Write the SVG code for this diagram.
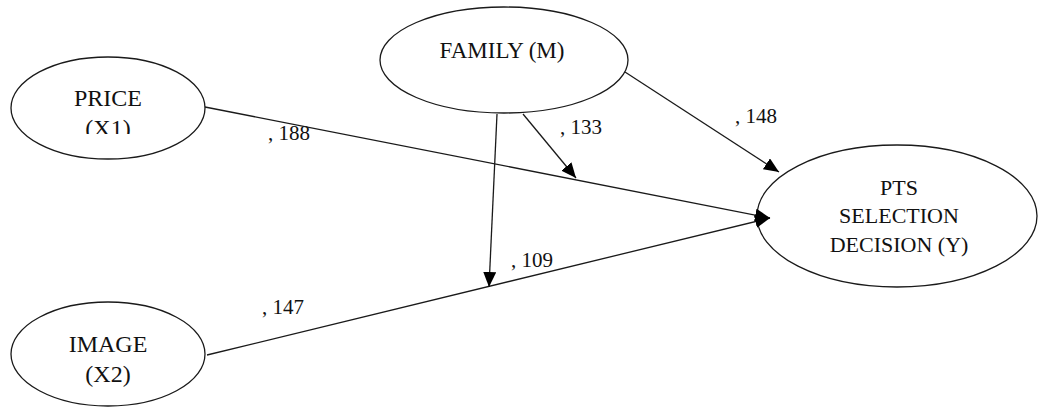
<svg xmlns="http://www.w3.org/2000/svg" width="1038" height="407" viewBox="0 0 1038 407">
  <style>
    .node ellipse { fill: #ffffff; stroke: #1a1a1a; stroke-width: 1.3; }
    .node text { fill: #111111; text-anchor: middle; }
    .edge line { stroke: #1a1a1a; stroke-width: 1.3; marker-end: url(#arrow); }
    .lbl { font-size: 21px; fill: #111111; }
  </style>
  <defs>
    <marker id="arrow" markerUnits="userSpaceOnUse" markerWidth="15" markerHeight="13" refX="15" refY="6.5" orient="auto">
      <path d="M0,0 L15,6.5 L0,13 Z" fill="#000000"/>
    </marker>
    <clipPath id="priceClip">
      <rect x="0" y="0" width="300" height="134"/>
    </clipPath>
  </defs>
  <rect width="1038" height="407" fill="#ffffff"/>

  <g font-family="'Liberation Serif', 'Times New Roman', serif">
    <g id="price" class="node">
      <ellipse cx="108" cy="108" rx="97" ry="51"/>
      <g clip-path="url(#priceClip)">
        <text x="108" y="106" font-size="24">PRICE</text>
        <text x="108" y="136" font-size="24">(X1)</text>
      </g>
    </g>

    <g id="family" class="node">
      <ellipse cx="504" cy="60" rx="124" ry="53"/>
      <text x="502" y="58" font-size="23">FAMILY (M)</text>
    </g>

    <g id="decision" class="node">
      <ellipse cx="897" cy="216" rx="140" ry="71"/>
      <text x="899" y="195" font-size="22">PTS</text>
      <text x="899" y="223" font-size="22">SELECTION</text>
      <text x="899" y="252" font-size="22">DECISION (Y)</text>
    </g>

    <g id="image" class="node">
      <ellipse cx="108" cy="354" rx="97" ry="52"/>
      <text x="108" y="352" font-size="24">IMAGE</text>
      <text x="108" y="382" font-size="24">(X2)</text>
    </g>

    <!-- path coefficients -->
    <g id="labels">
      <text class="lbl" x="268" y="140">, 188</text>
      <text class="lbl" x="560" y="134">, 133</text>
      <text class="lbl" x="511" y="267">, 109</text>
      <text class="lbl" x="262" y="314">, 147</text>
      <text class="lbl" x="735" y="123">, 148</text>
    </g>
  </g>

  <!-- drawn last so the arrowheads sit on top of the ellipse outlines -->
  <g id="connectors" class="edge">
    <line x1="205" y1="107" x2="770" y2="218"/>
    <line x1="207" y1="355" x2="770" y2="218"/>
    <line x1="523" y1="114" x2="576" y2="178"/>
    <line x1="497" y1="114" x2="489" y2="287"/>
    <line x1="625" y1="72" x2="779" y2="172"/>
  </g>
</svg>
